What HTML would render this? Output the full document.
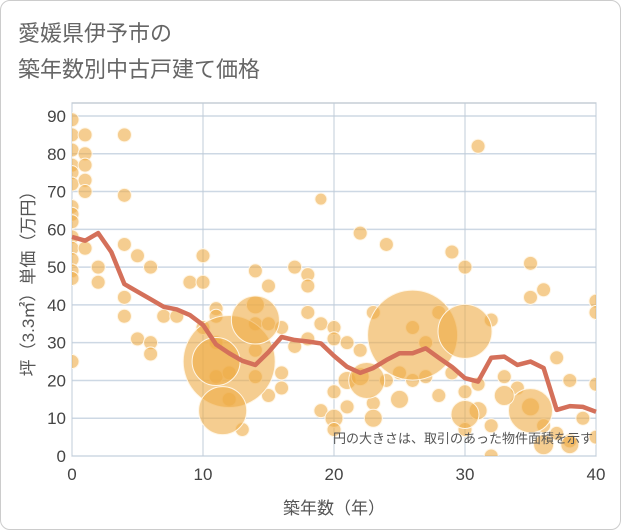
<!DOCTYPE html>
<html><head><meta charset="utf-8">
<style>
body{margin:0;background:#fff;font-family:"Liberation Sans","Noto Sans CJK JP",sans-serif;}
#card{position:absolute;left:0;top:0;width:619px;height:528px;border:1px solid #ccc;border-radius:10px;background:#fff;}
#title{position:absolute;left:18px;top:16px;font-size:22px;line-height:36px;color:#666;}
svg{position:absolute;left:0;top:0;}
</style></head><body>
<div id="card"></div>
<div id="title">愛媛県伊予市の<br>築年数別中古戸建て価格</div>
<svg id="chart" width="621" height="530"></svg>
<script>
const xTicks=[0,10,20,30,40];
const yTicks=[0,10,20,30,40,50,60,70,80,90];
const lineYears=[0,1,2,3,4,5,6,7,8,9,10,11,12,13,14,15,16,17,18,19,20,21,22,23,24,25,26,27,28,29,30,31,32,33,34,35,36,37,38,39,40];
const lineValues=[58,57,59,54,45.5,43.5,41.5,39.5,38.8,37.3,34.7,29.5,27.2,25.2,24.1,27.5,31.5,30.7,30.3,29.8,26.5,23.6,22,23.3,25.4,27.2,27.2,28.5,26,23.6,20.6,19.7,26,26.3,24.1,25,23.3,12.2,13.2,13,11.7];
const bubbleX=[0,0,0,0,0,0,0,0,0,0,0,0,0,0,0,1,1,1,1,1,1,2,2,4,4,4,4,4,5,5,6,6,6,7,8,9,10,10,10,11,11,11,11,12,12,13,14,14,14,14,14,15,15,15,16,16,16,17,17,18,18,18,18,19,19,19,20,20,20,20,20,21,21,21,22,22,22,23,23,23,24,24,25,25,26,26,27,27,28,28,29,29,30,30,30,31,31,31,32,32,32,33,34,35,35,35,36,36,37,37,38,38,39,40,40,40,40,12,11.5,14,11,35,22.5,26,30,30,33,36,38];
const bubbleY=[89,85,81,77,75,72,66,64,62,58,55,52,49,47,25,85,80,77,73,70,55,50,46,85,69,56,42,37,31,53,50,30,27,37,37,46,53,46,34,39,37,30,21,15,22,7,49,40,35,28,21,45,16,35,22,18,34,50,29,48,45,38,31,35,68,12,34,31,17,10,7,30,20,13,59,28,21,38,14,10,56,20,22,15,34,20,30,21,38,16,54,22,50,17,7,82,19,12,36,8,0,21,18,51,42,13,44,8,26,6,20,4,10,41,38,19,5,25,12,36,25,12,20,32,33,11,16,3,3];
const bubbleR=[7,7,7,7,7,7,7,7,7,7,7,7,7,7,7,7,7,7,7,7,7,7,7,7,7,7,7,7,7,7,7,7,7,7,7,7,7,7,7,7,7,7,7,7,7,7,7,9,7,7,7,7,7,7,7,7,7,7,7,7,7,7,7,7,6,7,7,7,7,9,7,7,9,7,7,7,9,7,7,9,7,7,7,9,7,7,7,7,7,7,7,7,7,7,7,7,7,9,7,7,7,7,7,7,7,9,7,7,7,7,7,7,7,7,7,7,7,46,24,24,24,22,18,45,27,14,10,10,9];
const svg=document.getElementById('chart');
const NS='http://www.w3.org/2000/svg';
const L=72,R=596,T=103,B=456;
const xs=v=>L+(v/40)*(R-L);
const ys=v=>B-(v/90)*(456-116);
function mk(t,a){const e=document.createElementNS(NS,t);for(const k in a)e.setAttribute(k,a[k]);svg.appendChild(e);return e;}
let e=mk('rect',{x:L,y:T,width:R-L,height:B-T,fill:'#fff',stroke:'#aab4c0'});


yTicks.forEach(v=>{
 let g=mk('line',{x1:L,x2:R,y1:ys(v),y2:ys(v),stroke:'#cdd8e4','stroke-width':1.5});
 
 
 let t=mk('text',{x:L-6,y:ys(v)+6,'text-anchor':'end','font-size':17,fill:'#444'});t.textContent=v;
 
 
});
xTicks.forEach(v=>{
 let g=mk('line',{x1:xs(v),x2:xs(v),y1:T,y2:B,stroke:'#c0ccd8','stroke-width':1});
 
 
 let t=mk('text',{x:xs(v),y:B+24,'text-anchor':'middle','font-size':17,fill:'#444'});t.textContent=v;
 
 
});
const cp=mk('clipPath',{id:'cp'});const cr=document.createElementNS(NS,'rect');
cr.setAttribute('x',L);cr.setAttribute('y',T);cr.setAttribute('width',R-L);cr.setAttribute('height',B-T);cp.appendChild(cr);
const gb=mk('g',{'clip-path':'url(#cp)'});


bubbleX.forEach((x,i)=>{
 const c=document.createElementNS(NS,'circle');
 c.setAttribute('cx',xs(x));c.setAttribute('cy',ys(bubbleY[i]));c.setAttribute('r',bubbleR[i]);
 c.setAttribute('fill','rgba(238,172,70,0.6)');c.setAttribute('stroke','#fff6e6');c.setAttribute('stroke-width','1');
 
 
 gb.appendChild(c);
});
let p=mk('polyline',{points:lineYears.map((x,i)=>xs(x)+','+ys(lineValues[i])).join(' '),fill:'none',stroke:'#d4705a','stroke-width':4.5,'stroke-linejoin':'round'});


let n=mk('text',{x:R-3,y:443,'text-anchor':'end','font-size':13,fill:'#555'});n.textContent='円の大きさは、取引のあった物件面積を示す';


let xt=mk('text',{x:(L+R)/2,y:514,'text-anchor':'middle','font-size':17,fill:'#555'});xt.textContent='築年数（年）';


let yt=mk('text',{x:0,y:0,'text-anchor':'middle','font-size':17,fill:'#555',transform:'translate(34,'+((T+B)/2)+') rotate(-90)'});yt.textContent='坪（3.3㎡）単価（万円）';


</script>
</body></html>
